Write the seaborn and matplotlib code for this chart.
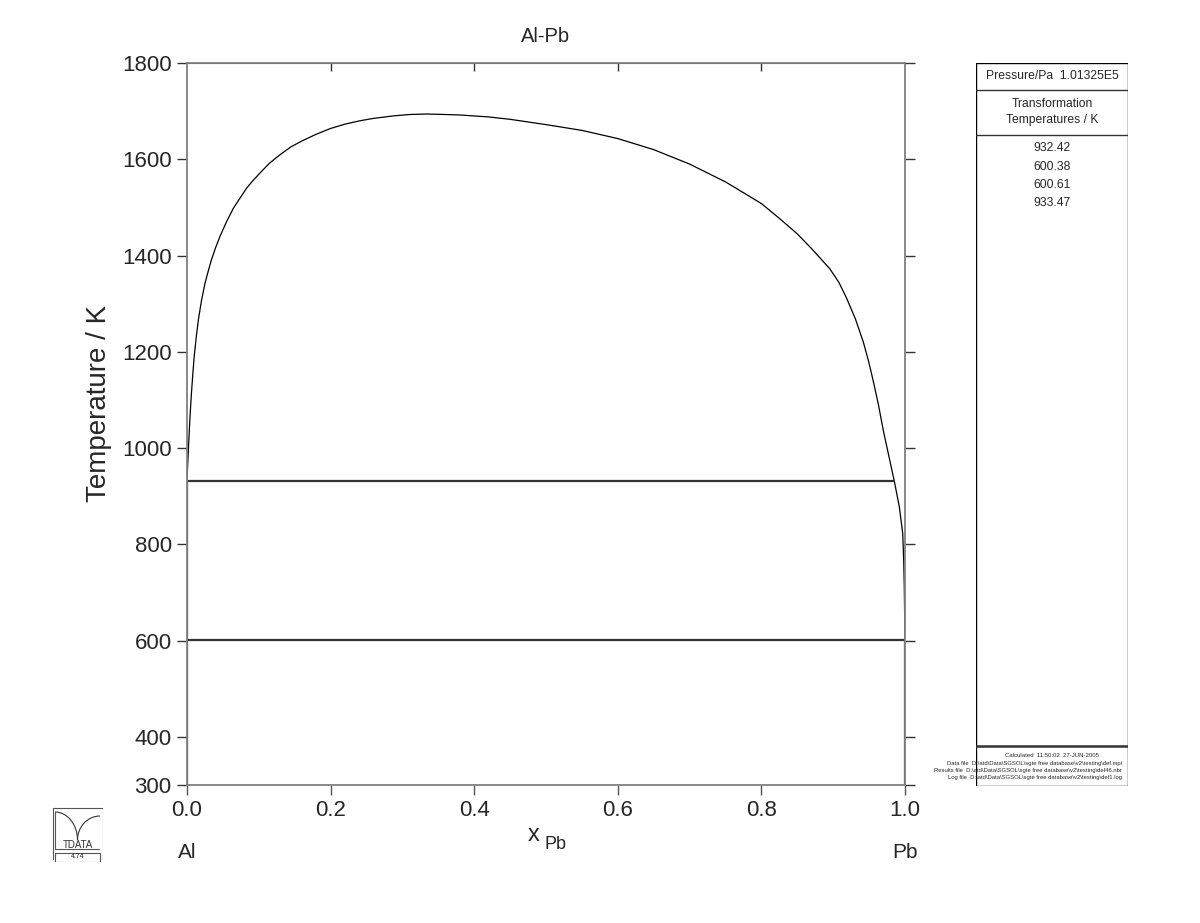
import matplotlib
matplotlib.use("Agg")
import matplotlib.pyplot as plt
import seaborn as sns
import pandas as pd
from matplotlib.patches import Rectangle, Arc

liq_x = [0.0, 0.002, 0.004, 0.006, 0.008, 0.010, 0.013, 0.016, 0.020, 0.025,
         0.030, 0.034, 0.040, 0.046, 0.055, 0.0645, 0.075, 0.083, 0.092, 0.102,
         0.115, 0.13, 0.145, 0.16, 0.18, 0.2, 0.22, 0.241, 0.26, 0.287,
         0.31, 0.334, 0.36, 0.38, 0.42, 0.45, 0.5, 0.55, 0.6, 0.65,
         0.7, 0.75, 0.8, 0.826, 0.85, 0.872, 0.8955, 0.908, 0.9188, 0.931,
         0.942, 0.949, 0.956, 0.963, 0.970, 0.978, 0.985, 0.9921, 0.9968, 0.9982,
         0.999, 1.0]
liq_t = [932, 1000, 1060, 1110, 1152, 1190, 1232, 1268, 1305, 1342,
         1370, 1391, 1417, 1440, 1470, 1498, 1522, 1540, 1556, 1572,
         1592, 1610, 1626, 1638, 1652, 1664, 1673, 1680, 1685, 1690,
         1693, 1694, 1693, 1692, 1688, 1683, 1672, 1660, 1643, 1620,
         1590, 1553, 1508, 1476, 1445, 1411, 1372, 1344, 1311, 1268,
         1220, 1182, 1138, 1090, 1035, 980, 932, 878, 823, 767,
         712, 600.6]

# linhas invariantes (monotético e eutético)
inv_t = [932.42, 600.38]
inv_x_fim = [0.985, 1.0]
# linhas verticais dos elementos puros
vert_x = [0.0, 1.0]
vert_t_topo = [932.42, 600.61]

temps_transf = ["932.42", "600.38", "600.61", "933.47"]
x_ticks = [0.0, 0.2, 0.4, 0.6, 0.8, 1.0]
y_ticks = [300, 400, 600, 800, 1000, 1200, 1400, 1600, 1800]

rodape = ["Calculated  11:50:02  27-JUN-2005",
          "Data file  D:\\atd\\Data\\SGSOL\\sgte free database\\v2\\testing\\def.mpi",
          "Results file  D:\\atd\\Data\\SGSOL\\sgte free database\\v2\\testing\\def46.nbr",
          "Log file  D:\\atd\\Data\\SGSOL\\sgte free database\\v2\\testing\\def1.log"]

sns.set_style("ticks")
plt.rcParams["font.family"] = ["Liberation Sans", "DejaVu Sans"]

fig = plt.figure(figsize=(12, 9.23), dpi=100)
ax = fig.add_axes([187/1200, 1 - 785/923, 718/1200, 722/923])

tabela = pd.DataFrame({"x": liq_x, "T": liq_t})
sns.lineplot(data=tabela, x="x", y="T", sort=False, estimator=None,
             color="black", linewidth=0.9, ax=ax)

for t, xf in zip(inv_t, inv_x_fim):
    linha = pd.DataFrame({"x": [0.0, xf], "T": [t, t]})
    sns.lineplot(data=linha, x="x", y="T", estimator=None, color="#333333",
                 linewidth=1.6, ax=ax)
for xv, tt in zip(vert_x, vert_t_topo):
    linha = pd.DataFrame({"x": [xv, xv], "T": [300, tt]})
    sns.lineplot(data=linha, x="x", y="T", estimator=None, color="#333333",
                 linewidth=1.6, ax=ax)

ax.set_xlim(0, 1)
ax.set_ylim(300, 1800)
ax.set_xticks(x_ticks)
ax.set_xticklabels([f"{v:.1f}" for v in x_ticks], fontsize=16)
ax.set_yticks(y_ticks)
ax.set_yticklabels([str(v) for v in y_ticks], fontsize=16)
ax.tick_params(axis="y", which="both", left=True, right=True, direction="out",
               length=7, width=1, color="#333333", pad=4)
ax.tick_params(axis="x", bottom=True, direction="out", length=7, width=1,
               color="#555555", pad=4)
topo = ax.secondary_xaxis("top")
topo.set_xticks(x_ticks[1:-1], labels=[])
topo.tick_params(direction="in", length=6, width=1, color="#333333")
topo.spines["top"].set_color("#555555")
for s in ax.spines.values():
    s.set_color("#808080")
    s.set_linewidth(1.3)
ax.set_xlabel("")
ax.set_ylabel("Temperature / K", fontsize=20)
ax.yaxis.set_label_coords(-0.104, 0.528)
ax.set_title("Al-Pb", fontsize=14.5, pad=15)

ax.text(0.0, -0.093, "Al", transform=ax.transAxes, ha="center", va="center", fontsize=15)
ax.text(1.0, -0.093, "Pb", transform=ax.transAxes, ha="center", va="center", fontsize=15)
ax.text(0.4916, -0.069, "x", transform=ax.transAxes, ha="right", va="center", fontsize=17)
ax.text(0.4986, -0.083, "Pb", transform=ax.transAxes, ha="left", va="center", fontsize=13)

# painel da direita
pn = fig.add_axes([976/1200, 1 - 786/923, 152/1200, 723/923])
pn.set_xlim(0, 1)
pn.set_ylim(786, 63)
pn.axis("off")
pn.add_patch(Rectangle((0, 63), 1, 723, fill=False, edgecolor="black", linewidth=1))
for yy, lw in [(90, 1), (135, 1), (746, 1.8)]:
    pn.plot([0, 1], [yy, yy], color="#333333", linewidth=lw)
pn.text(0.5, 76.5, "Pressure/Pa  1.01325E5", ha="center", va="center", fontsize=8.7)
pn.text(0.5, 112, "Transformation\nTemperatures / K", ha="center", va="center",
        fontsize=8.7, linespacing=1.45)
for i, s in enumerate(temps_transf):
    pn.text(0.5, 148.5 + i * 18.3, s, ha="center", va="center", fontsize=8.7)
pn.text(0.5, 756, rodape[0], ha="center", va="center", fontsize=4.3)
for i, s in enumerate(rodape[1:]):
    pn.text(0.96, 763.5 + i * 7, s, ha="right", va="center", fontsize=4.2, clip_on=False)

# logo TDATA
lg = fig.add_axes([52/1200, 1 - 862/923, 51/1200, 55/923])
lg.set_xlim(0, 51)
lg.set_ylim(0, 55)
lg.axis("off")
lg.plot([0.5, 0.5, 50.5, 50.5], [3, 54.5, 54.5, 3], color="#555555", linewidth=0.8)
lg.add_patch(Rectangle((3, 0.5), 45, 9, fill=False, edgecolor="#555555", linewidth=0.8))
lg.plot([3, 3, 47], [50, 13, 13], color="#555555", linewidth=0.8)
lg.text(25.5, 5, "4.74", ha="center", va="center", fontsize=5)
lg.text(25.5, 17.5, "TDATA", ha="center", va="center", fontsize=7, color="#333333")
lg.add_patch(Arc((3, 22), 45, 56, theta1=0, theta2=90, color="#333333", linewidth=0.8))
lg.add_patch(Arc((48, 22), 45, 48, theta1=90, theta2=180, color="#333333", linewidth=0.8))

fig.savefig("out.png", dpi=100)
